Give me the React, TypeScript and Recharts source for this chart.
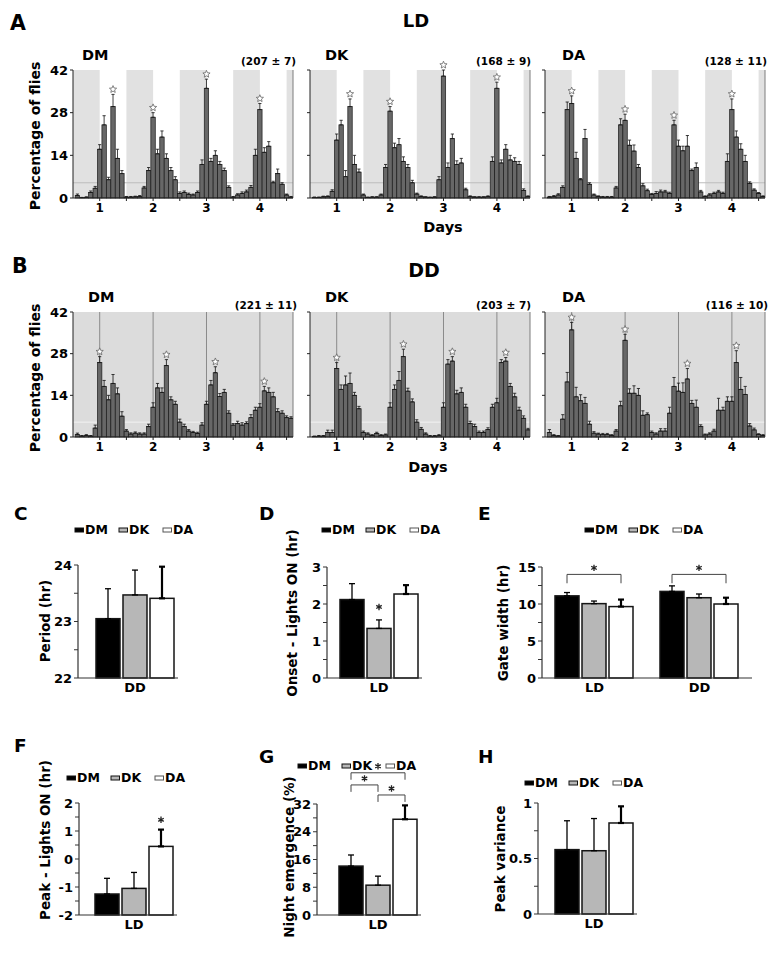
import React from 'react';
import { ComposedChart, BarChart, Bar, XAxis, YAxis, ErrorBar, ReferenceArea, ReferenceLine } from 'recharts';

const FONT = '"DejaVu Sans", "Liberation Sans", Arial, sans-serif';

// ---------------- Panels A & B : emergence profiles (2-h bins) ----------------
const DAY_TICKS = [1, 1.5, 2, 2.5, 3, 3.5, 4, 4.5];
const HIST_Y_TICKS = [0, 14, 28, 42];
const HIST_DOMAIN_X = [0.5, 4.62];
const DARK_PHASES = [[0.5, 1], [1.5, 2], [2.5, 3], [3.5, 4], [4.5, 4.62]];
const SUBJECTIVE_DAWN = [1, 2, 3, 4];
const THRESHOLD = 5;

const LD_DM = [0.8,0.1,0.2,1.8,3.2,16,24,6,30,13,8,0.3, 0.3,0.4,0.5,3.3,9,26.5,14.5,20,13,9,6,1.5, 1.8,1.2,1.0,1.8,11,36,12,14,11,9,3.5,0.3, 1.0,1.5,2.0,3.5,14,29,15,17,5,8,4.5,1, 0.3];
const LD_DM_ERR = [0.5,0.1,0.2,0.5,0.6,1.5,3,0.8,4,3,1,0.2, 0.2,0.2,0.3,0.5,1,1.5,1.5,2,1.5,1,1,0.5, 0.5,0.4,0.3,0.5,1.5,3,1,1.5,1,0.8,0.5,0.2, 0.4,0.5,0.6,0.6,2,2,1.5,1.5,0.5,1.5,0.5,0.3, 0.2];
const LD_DM_PEAKS = [8, 17, 29, 41];

const LD_DK = [0.2,0.2,0.4,0.5,2.2,19,24,7,30,11,8.5,1, 0.2,0.3,0.3,1.0,10,28.5,16.5,17.5,12,10,5,1.3, 0.5,0.3,0.2,0.3,6,40,10,19.5,11,11.5,2.7,0.5, 0.3,0.3,0.3,0.5,12,36,11.5,16,12.5,12,11,2.5, 0.5];
const LD_DK_ERR = [0.1,0.1,0.2,0.2,0.5,2,1.5,2,2.5,3,1,0.3, 0.1,0.1,0.1,0.3,1,1.5,1.5,2,1.5,1,0.8,0.3, 0.2,0.1,0.1,0.1,1,2,1.5,1.5,1.2,1.5,0.5,0.2, 0.1,0.1,0.1,0.2,1.5,2,1,1.5,1.5,1.2,1,0.5, 0.2];
const LD_DK_PEAKS = [8, 17, 29, 41];

const LD_DA = [0.3,0.5,1.0,3.5,29,31,13,6,19.5,4.5,1,0.5, 0.3,0.3,0.3,3.3,24,25.5,17.3,15.4,10,4,2.4,1.2, 1.5,2,2,1.5,24,17,15.5,17,9,10,2,0.5, 1,1.5,2,1.5,12,29,20,16,12,4.8,2.6,1.5, 0.5];
const LD_DA_ERR = [0.2,0.3,0.4,0.5,2.5,2.5,2,0.4,3,0.5,0.3,0.2, 0.2,0.2,0.2,0.5,2,2,1.7,2,1,0.7,0.5,0.3, 0.6,0.6,0.5,0.4,1.5,2,1.5,3.5,0.5,1.5,0.5,0.2, 0.4,0.4,0.5,0.4,2.5,3.5,2,1.8,2,0.5,0.4,0.3, 0.2];
const LD_DA_PEAKS = [5, 17, 28, 41];

const DD_DM = [0.8,0.3,0.5,0.3,3,25,17,12.5,18,14.5,7,2, 1,1.3,1,1,3.5,10,16.5,15,24,12.5,11,5, 3.5,2,1.5,1.2,4,11,17.5,21.6,13.6,15,8,4, 4.5,4,4.5,6.5,9,10,15.5,15,13.5,8.5,8,6.5, 6.3];
const DD_DM_ERR = [0.5,0.2,0.3,0.2,1,2,2,1.5,3,2,1.5,0.5, 0.4,0.4,0.4,0.4,0.8,1.5,1.5,1.5,2,1,1,1, 0.8,0.5,0.4,0.4,0.8,1,1.5,2,1,1,0.8,0.5, 0.8,0.8,0.6,1,1,1.2,1.5,1.5,1.5,1,0.8,0.6, 0.5];
const DD_DM_PEAKS = [5, 20, 31, 42];

const DD_DK = [0.2,0.3,0.3,1.5,1.5,23,16,17.5,18,14,9.5,1.5, 1,0.5,1.2,0.5,0.7,10,16,19,27,15.4,11.8,5, 2.6,1,0.3,0.3,0.5,10,24.5,25.5,14.5,15,10,4.5, 3.5,1.5,1.5,2.5,10,11.5,25,25.5,17,13.5,9,6.3, 2.4];
const DD_DK_ERR = [0.1,0.2,0.2,0.8,0.8,2,1.5,3,3.5,1,0.8,0.5, 0.4,0.3,0.4,0.3,0.3,1.5,1.5,3,2.5,1,1,0.8, 0.6,0.4,0.2,0.2,0.3,1.5,1.5,1.5,1.2,1.5,1,0.8, 0.8,0.5,0.5,0.6,1,1.5,1,1.2,1,1.2,1,0.8, 0.5];
const DD_DK_PEAKS = [5, 20, 31, 43];

const DD_DA = [1.5,0.5,0.3,6,18.5,36,13.5,12.2,11.3,4.3,1.3,1, 0.8,0.8,0.5,2,10.5,32.5,14.7,14.7,14,7.3,7.5,1.5, 1,2,2,8,17,15.4,15,19.5,11.3,10,3.5,0.7, 1,2,9,9,12,12,25,16,14.3,3.7,2.4,0.8, 0.5];
const DD_DA_ERR = [1,0.3,0.2,1.5,3.2,2.5,3.2,2,2,1,0.5,0.3, 0.4,0.4,0.3,0.5,1.5,2,1.5,2.5,2.3,1.5,0.6,0.5, 0.4,0.8,0.8,2,3,2.7,3.2,3.5,1,2.4,0.6,0.3, 0.4,0.6,4,1,1.5,1.5,4,4,2.7,0.8,0.6,0.3, 0.3];
const DD_DA_PEAKS = [5, 17, 31, 42];

const N_LD = ['(207 ± 7)', '(168 ± 9)', '(128 ± 11)'];
const N_DD = ['(221 ± 11)', '(203 ± 7)', '(116 ± 10)'];

// ---------------- Panels C–H : summary bars ----------------
const GENOTYPES = ['DM', 'DK', 'DA'];
const PERIOD = [23.05, 23.47, 23.41];
const PERIOD_ERR = [0.53, 0.44, 0.56];
const ONSET = [2.12, 1.34, 2.27];
const ONSET_ERR = [0.43, 0.23, 0.24];
const GATE_LD = [11.1, 10.05, 9.65];
const GATE_LD_ERR = [0.45, 0.35, 0.95];
const GATE_DD = [11.7, 10.85, 10.0];
const GATE_DD_ERR = [0.75, 0.5, 0.85];
const PEAK = [-1.25, -1.05, 0.45];
const PEAK_ERR = [0.56, 0.57, 0.6];
const NIGHT = [14.1, 8.6, 27.6];
const NIGHT_ERR = [3.2, 2.6, 4.0];
const VARIANCE = [0.58, 0.57, 0.82];
const VARIANCE_ERR = [0.26, 0.29, 0.15];

const SERIES = [
  { key: 'DM', fill: '#000000' },
  { key: 'DK', fill: '#b7b7b7' },
  { key: 'DA', fill: '#ffffff' },
];
const BAR_GAP = 3;

const starPath = (cx: number, cy: number, R: number, r: number) => {
  let d = '';
  for (let k = 0; k < 10; k++) {
    const a = -Math.PI / 2 + (k * Math.PI) / 5;
    const rad = k % 2 === 0 ? R : r;
    d += (k === 0 ? 'M' : 'L') + (cx + rad * Math.cos(a)).toFixed(2) + ',' + (cy + rad * Math.sin(a)).toFixed(2);
  }
  return d + 'Z';
};

const asteriskPath = (cx: number, cy: number, r: number) => {
  let d = '';
  [90, 30, 150].forEach((deg) => {
    const a = (deg * Math.PI) / 180;
    const dx = r * Math.cos(a), dy = r * Math.sin(a);
    d += `M${(cx - dx).toFixed(2)},${(cy - dy).toFixed(2)}L${(cx + dx).toFixed(2)},${(cy + dy).toFixed(2)}`;
  });
  return d;
};

const HistShape = (props: any) => {
  const { x, y, width, height, payload } = props;
  const h = Math.max(0, height || 0);
  const out: any[] = [
    <rect key="r" x={x} y={y} width={width} height={h} fill="#676767" stroke="#1b1b1b" strokeWidth={0.7} />,
  ];
  if (payload && payload.peak && payload.v > 0) {
    const ppu = h / payload.v;
    const cy = y - payload.err * ppu - 5;
    out.push(<path key="s" d={starPath(x + width / 2, cy, 3.8, 1.7)} fill="#ffffff" stroke="#666" strokeWidth={0.8} />);
  }
  return <g>{out}</g>;
};

function HistPanel({ values, errs, peaks, dd, left, top, plotH, showLabels }: any) {
  const data = values.map((v: number, i: number) => ({
    t: 0.5 + (i + 1) / 12,
    v,
    e: [0, errs[i]],
    err: errs[i],
    peak: peaks.includes(i),
  }));
  const MT = 12;
  const tickStyle = { fontSize: 12, fontWeight: 700, fill: '#000', fontFamily: FONT };
  return (
    <div style={{ position: 'absolute', left, top: top - MT }}>
      <ComposedChart width={256} height={MT + plotH + 22} data={data} margin={{ top: MT, right: 6, bottom: 0, left: 0 }} barGap={0} barCategoryGap={0}>
        {dd
          ? <ReferenceArea zIndex={10} x1={HIST_DOMAIN_X[0]} x2={HIST_DOMAIN_X[1]} fill="#dcdcdc" fillOpacity={1} stroke="none" />
          : DARK_PHASES.map(([a, b]) => <ReferenceArea zIndex={10} key={a} x1={a} x2={b} fill="#e1e1e1" fillOpacity={1} stroke="none" />)}
        {dd && SUBJECTIVE_DAWN.map((d) => <ReferenceLine zIndex={20} key={d} x={d} stroke="#8a8a8a" strokeWidth={1} />)}
        <ReferenceLine zIndex={20} y={THRESHOLD} stroke={dd ? '#f3f3f3' : '#bcbcbc'} strokeWidth={1} />
        <ReferenceLine zIndex={20} x={HIST_DOMAIN_X[1]} stroke="#7c7c7c" strokeWidth={1} />
        <XAxis type="number" dataKey="t" domain={HIST_DOMAIN_X} ticks={DAY_TICKS} interval={0}
          tickFormatter={(t: number) => (Number.isInteger(t) ? String(t) : '')}
          height={22} tickSize={3} tickMargin={2} tick={tickStyle}
          axisLine={{ stroke: '#222' }} tickLine={{ stroke: '#222' }} allowDataOverflow />
        <YAxis type="number" domain={[0, 42]} ticks={HIST_Y_TICKS} interval={0} width={30} tickSize={3} tickMargin={2}
          tickFormatter={showLabels ? (v: number) => String(v) : () => ''}
          tick={{ ...tickStyle, fontSize: 13 }} axisLine={{ stroke: '#222' }} tickLine={{ stroke: '#222' }} />
        <Bar dataKey="v" barSize={4.4} shape={HistShape} isAnimationActive={false}>
          <ErrorBar dataKey="e" width={1.6} stroke="#111" strokeWidth={0.8} />
        </Bar>
      </ComposedChart>
    </div>
  );
}

function BarPanel({ cfg }: any) {
  const { cats, values, errs, base, domain, ticks, major, plot, padL, padR, catGap, brackets = [], stars = [] } = cfg;
  const rows = cats.map((c: string, ci: number) => {
    const r: any = { cat: c };
    SERIES.forEach((s, si) => {
      r[s.key] = [base, values[si][ci]];
      r[s.key + 'V'] = values[si][ci];
      r[s.key + 'E'] = [0, errs[si][ci]];
    });
    return r;
  });
  const MT = 45, YW = 40, XH = 28, MR = 8;
  const makeShape = (si: number) => (p: any) => {
    const { x, y, width, height, payload } = p;
    const v = payload[SERIES[si].key + 'V'];
    const ppu = height / (v - base);
    const y0 = y + height;
    const yOf = (val: number) => y0 - (val - base) * ppu;
    const cx = x + width / 2;
    const step = width + BAR_GAP;
    const extra: any[] = [];
    if (si === 0) {
      brackets.filter((b: any) => b.cat === payload.cat).forEach((b: any, k: number) => {
        const x1 = cx + b.from * step, x2 = cx + b.to * step, yl = yOf(b.y), yd = yOf(b.y - b.drop);
        extra.push(<path key={'b' + k} d={`M${x1},${yd}L${x1},${yl}L${x2},${yl}L${x2},${yd}`} fill="none" stroke="#444" strokeWidth={1} />);
        extra.push(<path key={'bs' + k} d={asteriskPath((x1 + x2) / 2, yl - 6.5, 3.2)} stroke="#222" strokeWidth={1.3} fill="none" />);
      });
    }
    stars.filter((s: any) => s.cat === payload.cat && s.series === si).forEach((s: any, k: number) => {
      extra.push(<path key={'s' + k} d={asteriskPath(cx, yOf(s.y), 3.2)} stroke="#222" strokeWidth={1.3} fill="none" />);
    });
    return (
      <g>
        <rect x={x} y={y} width={width} height={Math.max(0, height)} fill={SERIES[si].fill} stroke="#151515" strokeWidth={1.5} />
        {extra}
      </g>
    );
  };
  const tickStyle = { fontSize: 13, fontWeight: 700, fill: '#000', fontFamily: FONT };
  return (
    <div style={{ position: 'absolute', left: plot.left - YW, top: plot.top - MT }}>
      <BarChart width={YW + plot.width + MR} height={MT + plot.height + XH} data={rows}
        margin={{ top: MT, right: MR, bottom: 0, left: 0 }} barGap={BAR_GAP} barCategoryGap={catGap}>
        <XAxis dataKey="cat" type="category" padding={{ left: padL, right: padR }} height={XH} interval={0}
          tickLine={false} tickSize={4} tickMargin={1} axisLine={{ stroke: '#333', strokeWidth: 1.2 }} tick={tickStyle} />
        <YAxis type="number" domain={domain} ticks={ticks} interval={0} width={YW} tickSize={4} tickMargin={2}
          tickFormatter={(v: number) => (major.includes(v) ? String(v) : '')}
          axisLine={{ stroke: '#333', strokeWidth: 1.2 }} tickLine={{ stroke: '#333' }} tick={tickStyle} />
        {SERIES.map((s, si) => (
          <Bar key={s.key} dataKey={s.key} fill={s.fill} isAnimationActive={false} shape={makeShape(si)}>
            <ErrorBar dataKey={s.key + 'E'} width={3} stroke="#000" strokeWidth={si === 2 ? 2.2 : 1.3} />
          </Bar>
        ))}
      </BarChart>
    </div>
  );
}

const PANEL_C = {
  cats: ['DD'], values: PERIOD.map((v) => [v]), errs: PERIOD_ERR.map((v) => [v]), base: 22, domain: [22, 24],
  ticks: [22, 22.5, 23, 23.5, 24], major: [22, 23, 24], plot: { left: 78, top: 565, width: 100, height: 113 },
  padL: 14, padR: 0, catGap: 4,
};
const PANEL_D = {
  cats: ['LD'], values: ONSET.map((v) => [v]), errs: ONSET_ERR.map((v) => [v]), base: 0, domain: [0, 3],
  ticks: [0, 0.5, 1, 1.5, 2, 2.5, 3], major: [0, 1, 2, 3], plot: { left: 327, top: 567, width: 95, height: 111 },
  padL: 9, padR: 0, catGap: 4, stars: [{ cat: 'LD', series: 1, y: 1.92 }],
};
const PANEL_E = {
  cats: ['LD', 'DD'], values: [[GATE_LD[0], GATE_DD[0]], [GATE_LD[1], GATE_DD[1]], [GATE_LD[2], GATE_DD[2]]],
  errs: [[GATE_LD_ERR[0], GATE_DD_ERR[0]], [GATE_LD_ERR[1], GATE_DD_ERR[1]], [GATE_LD_ERR[2], GATE_DD_ERR[2]]],
  base: 0, domain: [0, 15], ticks: [0, 2.5, 5, 7.5, 10, 12.5, 15], major: [0, 5, 10, 15],
  plot: { left: 542, top: 567, width: 210, height: 111 }, padL: 0, padR: 0, catGap: 13,
  brackets: [{ cat: 'LD', from: 0, to: 2, y: 14, drop: 1.2 }, { cat: 'DD', from: 0, to: 2, y: 14, drop: 1.2 }],
};
const PANEL_F = {
  cats: ['LD'], values: PEAK.map((v) => [v]), errs: PEAK_ERR.map((v) => [v]), base: -2, domain: [-2, 2],
  ticks: [-2, -1.5, -1, -0.5, 0, 0.5, 1, 1.5, 2], major: [-2, -1, 0, 1, 2], plot: { left: 79, top: 803, width: 98, height: 112 },
  padL: 12, padR: 0, catGap: 4, stars: [{ cat: 'LD', series: 2, y: 1.4 }],
};
const PANEL_G = {
  cats: ['LD'], values: NIGHT.map((v) => [v]), errs: NIGHT_ERR.map((v) => [v]), base: 0, domain: [0, 32],
  ticks: [0, 4, 8, 12, 16, 20, 24, 28, 32], major: [0, 8, 16, 24, 32], plot: { left: 317, top: 804, width: 104, height: 111 },
  padL: 18, padR: 0, catGap: 4,
  brackets: [
    { cat: 'LD', from: 0, to: 2, y: 41, drop: 2 },
    { cat: 'LD', from: 0, to: 1, y: 37.5, drop: 2 },
    { cat: 'LD', from: 1, to: 2, y: 34.6, drop: 2 },
  ],
};
const PANEL_H = {
  cats: ['LD'], values: VARIANCE.map((v) => [v]), errs: VARIANCE_ERR.map((v) => [v]), base: 0, domain: [0, 1],
  ticks: [0, 0.25, 0.5, 0.75, 1], major: [0, 0.5, 1], plot: { left: 538, top: 803, width: 99, height: 111 },
  padL: 13, padR: 0, catGap: 4,
};

const T = (p: any) => <text fontFamily={FONT} fontWeight="bold" fill="#000" {...p} />;
const VT = ({ x, y, size, children }: any) => (
  <text x={x} y={y} transform={`rotate(-90 ${x} ${y})`} textAnchor="middle" fontFamily={FONT} fontWeight="bold" fontSize={size} fill="#000">{children}</text>
);

function LegendRow({ x, y }: any) {
  return (
    <g>
      {GENOTYPES.map((g, i) => {
        const lx = x + i * 44;
        return (
          <g key={g}>
            <rect x={lx} y={y - 6} width={8.5} height={4} fill={SERIES[i].fill} stroke={i === 2 ? '#555' : '#111'} strokeWidth={1} />
            <T x={lx + 10} y={y} fontSize={12.5}>{g}</T>
          </g>
        );
      })}
    </g>
  );
}

export default function App() {
  return (
    <div style={{ position: 'absolute', left: 0, top: 0, width: 776, height: 959, background: '#fff', overflow: 'hidden' }}>
      <HistPanel values={LD_DM} errs={LD_DM_ERR} peaks={LD_DM_PEAKS} left={43} top={70} plotH={128} showLabels />
      <HistPanel values={LD_DK} errs={LD_DK_ERR} peaks={LD_DK_PEAKS} left={280} top={70} plotH={128} />
      <HistPanel values={LD_DA} errs={LD_DA_ERR} peaks={LD_DA_PEAKS} left={515} top={70} plotH={128} />
      <HistPanel values={DD_DM} errs={DD_DM_ERR} peaks={DD_DM_PEAKS} dd left={43} top={312} plotH={125} showLabels />
      <HistPanel values={DD_DK} errs={DD_DK_ERR} peaks={DD_DK_PEAKS} dd left={280} top={312} plotH={125} />
      <HistPanel values={DD_DA} errs={DD_DA_ERR} peaks={DD_DA_PEAKS} dd left={515} top={312} plotH={125} />

      <BarPanel cfg={PANEL_C} />
      <BarPanel cfg={PANEL_D} />
      <BarPanel cfg={PANEL_E} />
      <BarPanel cfg={PANEL_F} />
      <BarPanel cfg={PANEL_G} />
      <BarPanel cfg={PANEL_H} />

      <svg width={776} height={959} style={{ position: 'absolute', left: 0, top: 0, pointerEvents: 'none' }}>
        <T x={10} y={30} fontSize={20.5}>A</T>
        <T x={416} y={27} fontSize={18} textAnchor="middle">LD</T>
        <T x={82} y={60} fontSize={14.5}>{GENOTYPES[0]}</T>
        <T x={325} y={60} fontSize={14.5}>{GENOTYPES[1]}</T>
        <T x={562} y={60} fontSize={14.5}>{GENOTYPES[2]}</T>
        <T x={296} y={65} fontSize={10.5} textAnchor="end">{N_LD[0]}</T>
        <T x={531} y={65} fontSize={10.5} textAnchor="end">{N_LD[1]}</T>
        <T x={767} y={65} fontSize={10.5} textAnchor="end">{N_LD[2]}</T>
        <VT x={40} y={136} size={14}>Percentage of flies</VT>
        <T x={443} y={232} fontSize={14.5} textAnchor="middle">Days</T>

        <T x={12} y={273} fontSize={20.5}>B</T>
        <T x={424} y={277} fontSize={19} textAnchor="middle">DD</T>
        <T x={88} y={302} fontSize={14.5}>{GENOTYPES[0]}</T>
        <T x={325} y={302} fontSize={14.5}>{GENOTYPES[1]}</T>
        <T x={562} y={302} fontSize={14.5}>{GENOTYPES[2]}</T>
        <T x={297} y={309} fontSize={10.5} textAnchor="end">{N_DD[0]}</T>
        <T x={531} y={309} fontSize={10.5} textAnchor="end">{N_DD[1]}</T>
        <T x={768} y={309} fontSize={10.5} textAnchor="end">{N_DD[2]}</T>
        <VT x={40} y={378} size={14}>Percentage of flies</VT>
        <T x={428} y={472} fontSize={14.5} textAnchor="middle">Days</T>

        <T x={14} y={520} fontSize={18.5}>C</T>
        <T x={259} y={520} fontSize={18.5}>D</T>
        <T x={478} y={520} fontSize={18.5}>E</T>
        <T x={14} y={752} fontSize={18.5}>F</T>
        <T x={259} y={763} fontSize={18.5}>G</T>
        <T x={478} y={763} fontSize={18.5}>H</T>

        <LegendRow x={75} y={534} />
        <LegendRow x={322} y={534} />
        <LegendRow x={585} y={534} />
        <LegendRow x={67} y={782} />
        <LegendRow x={298} y={770} />
        <LegendRow x={525} y={787} />

        <VT x={50} y={621} size={13.5}>Period (hr)</VT>
        <VT x={297} y={613} size={13.5}>Onset - Lights ON (hr)</VT>
        <VT x={508} y={623} size={13.5}>Gate width (hr)</VT>
        <VT x={50} y={840} size={13.5}>Peak - Lights ON (hr)</VT>
        <VT x={294} y={857} size={13.5}>Night emergence (%)</VT>
        <VT x={505} y={859} size={13.5}>Peak variance</VT>
      </svg>
    </div>
  );
}
